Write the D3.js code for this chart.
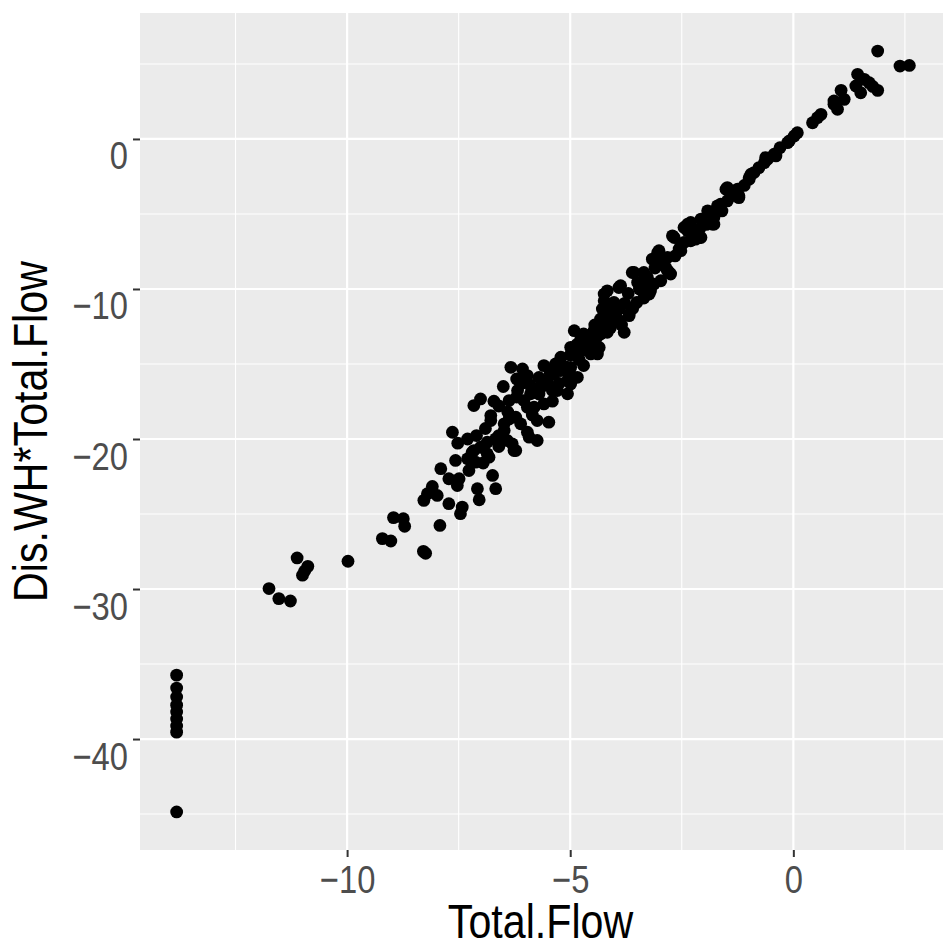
<!DOCTYPE html>
<html>
<head>
<meta charset="utf-8">
<script src="https://cdn.jsdelivr.net/npm/d3@7"></script>
<style>
  html, body { margin: 0; padding: 0; background: #ffffff; }
  svg { display: block; }
  text { font-family: "Liberation Sans", Arial, sans-serif; }
</style>
</head>
<body>
<svg id="chart" width="943" height="947"></svg>
<script>
// Total.Flow (x) against Dis.WH*Total.Flow (y)
const flowX = [
  -13.82,-13.82,-13.82,-13.82,-13.82,-13.82,-13.82,-13.82,-13.82,
  -11.75,-11.53,-11.27,-11.12,-10.88,-10.95,-11.0,-9.98,-9.21,-9.02,-8.96,-8.74,-8.71,-8.29,-8.24,-8.28,-8.2,
  -7.92,-8.09,-7.98,-7.9,-7.72,-7.49,-7.53,-7.72,-7.42,-7.46,-7.64,-7.52,-7.57,-7.3,-7.12,-7.27,-7.08,-7.04,
  -6.74,-6.67,-7.1,-7.01,-6.86,-7.16,-7.01,-6.71,-6.78,-6.78,-6.67,-6.6,-6.48,-6.41,-6.3,-6.22,-6.86,-6.48,
  -6.37,-6.22,-6.11,-6.37,-6.18,-6.04,-5.96,-5.92,-5.74,-5.96,-5.74,-5.48,-5.81,-5.59,-5.4,-6.33,-6.07,-5.96,
  -5.59,-5.66,-5.81,-5.51,-5.36,-5.21,-5.06,-4.99,-5.29,-5.33,
  -5.21,-4.91,-7.16,-6.82,-6.26,
  -4.91,-4.76,-4.47,-4.61,-4.99,-4.76,-4.54,-4.99,-4.84,-6.11,-5.06,-4.47,-4.32,-4.17,-4.32,-4.17,-3.94,-3.79,
  -3.68,-3.91,-4.05,-4.24,-4.28,-4.17,-4.24,-3.78,-3.51,-3.87,-3.61,-3.49,-3.27,-3.12,-3.23,-2.97,-2.82,-2.97,
  -3.16,-2.82,-3.35,-5.51,-5.89,-5.4,
  -4.61,-4.39,-6.0,-4.02,-4.13,-3.91,-3.68,-3.91,-3.35,-3.2,-2.78,-3.01,-2.67,-2.52,-2.3,-2.11,-2.37,-3.57,
  -2.75,-2.86,-2.56,-2.37,-2.22,-2.07,-2.19,-1.92,-1.78,-1.81,-1.7,-1.48,-1.51,-1.25,-1.22,-1.33,-0.99,-0.88,
  -0.77,-0.65,-0.58,-0.43,-0.3,-2.52,-3.04,
  -2.71,-2.45,-2.3,-2.19,-2.07,-1.81,-1.78,-1.63,-1.48,-1.33,-1.22,-0.99,-0.62,-0.39,-0.13,0.02,0.09,0.43,
  0.54,0.62,0.91,
  -0.95,-0.09,0.91,1.07,0.99,1.14,1.44,1.59,1.7,1.4,1.51,1.89,1.89,2.39,2.6,1.78,
  -4.7,-4.55,-4.4,-4.25,-4.1,-4.0,-4.45,-4.85,-4.65,-4.35,-5.0,-4.8,-5.1,-5.45,-5.7,-5.55,-5.25,-5.0,
  -4.7,-5.7,-5.9,-6.2,-6.5,-6.2,-6.6,-6.4,-6.9,-7.3,-7.2,-6.95,-6.6,-5.85,-3.7,-3.45,-3.3,-3.1,
  -2.9,-2.65,-2.45,-2.1,-1.95,-1.6,-1.4,-1.1,-3.85,-3.6,-3.35
];
const disWH = [
  -35.74,-36.6,-37.2,-37.74,-38.2,-38.67,-39.13,-39.54,-44.86,
  -29.97,-30.64,-30.8,-27.93,-28.49,-28.8,-29.08,-28.15,-26.64,-26.8,-25.24,-25.31,-25.82,-27.49,-27.62,-24.09,-23.65,
  -25.76,-23.16,-23.76,-21.98,-22.65,-22.65,-23.1,-24.31,-24.54,-24.98,-19.55,-20.28,-21.43,-21.32,-21.54,-22.1,-23.31,-24.05,
  -22.43,-23.31,-19.77,-20.55,-20.99,-17.77,-17.33,-17.48,-18.44,-18.77,-19.99,-19.77,-19.43,-20.1,-20.32,-20.77,-20.21,-18.99,
  -18.66,-18.55,-18.99,-17.44,-16.77,-17.44,-17.88,-19.88,-20.1,-19.55,-18.77,-18.88,-17.88,-17.66,-17.48,-15.22,-15.33,-15.77,
  -15.11,-16.55,-16.88,-16.11,-15.66,-15.44,-16.11,-15.22,-16.77,-15.0,
  -14.55,-14.33,-20.77,-21.21,-20.77,
  -12.78,-13.33,-12.78,-13.11,-13.89,-14.11,-14.33,-16.33,-15.89,-16.33,-16.99,-13.66,-13.0,-12.89,-12.0,-12.33,-12.0,-12.89,
  -11.78,-11.33,-11.0,-10.78,-11.33,-10.12,-10.34,-10.96,-10.9,-9.78,-8.9,-9.56,-9.23,-9.67,-10.34,-9.45,-8.79,-8.34,
  -8.01,-7.9,-8.9,-16.33,-16.99,-16.77,
  -13.44,-14.33,-16.1,-10.9,-11.67,-12.11,-11.67,-9.9,-9.45,-10.12,-8.9,-7.45,-6.57,-7.45,-6.79,-6.57,-6.12,-8.9,
  -9.0,-8.57,-7.34,-5.68,-6.12,-5.34,-6.68,-4.79,-5.24,-5.68,-4.46,-4.13,-3.35,-3.35,-3.91,-3.68,-2.68,-2.24,
  -1.91,-1.58,-1.35,-1.02,-0.58,-7.12,-7.57,
  -6.46,-5.9,-5.57,-6.24,-6.57,-5.12,-5.68,-4.35,-3.24,-3.46,-3.79,-2.58,-1.24,-1.13,-0.25,0.2,0.42,1.08,
  1.42,1.64,2.31,
  -2.35,-0.13,2.53,3.24,1.98,2.64,4.31,3.97,3.75,3.53,3.08,3.24,5.86,4.86,4.9,3.5,
  -13.0,-13.6,-13.2,-12.6,-12.6,-11.7,-12.4,-13.7,-14.0,-13.9,-14.4,-14.7,-15.2,-15.6,-15.9,-16.4,-16.3,-15.7,
  -15.1,-17.0,-16.4,-16.0,-16.5,-17.2,-17.8,-18.2,-19.3,-20.0,-20.9,-21.6,-20.5,-18.4,-10.3,-10.0,-9.8,-8.6,
  -8.1,-7.8,-6.9,-6.0,-5.7,-4.8,-3.8,-3.1,-12.4,-11.3,-10.6
];

// Axis breaks
const xBreaks = [-10, -5, 0];
const xMinor = [-12.5, -7.5, -2.5, 2.5];
const yBreaks = [0, -10, -20, -30, -40];
const yMinor = [5, -5, -15, -25, -35, -45];
const xTitle = "Total.Flow";
const yTitle = "Dis.WH*Total.Flow";

const points = flowX.map((x, i) => ({ x, y: disWH[i] }));

// ggplot-style 5% expansion of the data range
function expand(ext) {
  const pad = (ext[1] - ext[0]) * 0.05;
  return [ext[0] - pad, ext[1] + pad];
}

// condensed lettering
const squeeze = "scale(0.84,1)";

const panel = { left: 140, right: 946, top: 13, bottom: 850 };

const x = d3.scaleLinear().domain(expand(d3.extent(flowX))).range([panel.left, panel.right]);
const y = d3.scaleLinear().domain(expand(d3.extent(disWH))).range([panel.bottom, panel.top]);

const svg = d3.select("#chart");

// Panel background
svg.append("rect")
  .attr("x", panel.left).attr("y", panel.top)
  .attr("width", panel.right - panel.left).attr("height", panel.bottom - panel.top)
  .attr("fill", "#EBEBEB");

const grid = svg.append("g");
// Minor gridlines
grid.selectAll("line.xminor").data(xMinor).join("line")
  .attr("x1", d => x(d)).attr("x2", d => x(d))
  .attr("y1", panel.top).attr("y2", panel.bottom)
  .attr("stroke", "#ffffff").attr("stroke-width", 1.1);
grid.selectAll("line.yminor").data(yMinor).join("line")
  .attr("y1", d => y(d)).attr("y2", d => y(d))
  .attr("x1", panel.left).attr("x2", panel.right)
  .attr("stroke", "#ffffff").attr("stroke-width", 1.1);
// Major gridlines
grid.selectAll("line.xmajor").data(xBreaks).join("line")
  .attr("x1", d => x(d)).attr("x2", d => x(d))
  .attr("y1", panel.top).attr("y2", panel.bottom)
  .attr("stroke", "#ffffff").attr("stroke-width", 2.2);
grid.selectAll("line.ymajor").data(yBreaks).join("line")
  .attr("y1", d => y(d)).attr("y2", d => y(d))
  .attr("x1", panel.left).attr("x2", panel.right)
  .attr("stroke", "#ffffff").attr("stroke-width", 2.2);

// Points
svg.append("g").selectAll("circle").data(points).join("circle")
  .attr("cx", d => x(d.x)).attr("cy", d => y(d.y))
  .attr("r", 6.4).attr("fill", "#000000");

const minus = d => d3.format("")(d).replace("-", "\u2212");

// X axis
const xAxis = d3.axisBottom(x).tickValues(xBreaks).tickSize(7).tickPadding(4).tickFormat(minus);
const gx = svg.append("g").attr("transform", `translate(0,${panel.bottom})`).call(xAxis);
gx.select(".domain").remove();
gx.selectAll(".tick line").attr("stroke", "#333333").attr("stroke-width", 2);
gx.selectAll(".tick text").attr("fill", "#4D4D4D").attr("font-size", 39)
  .attr("y", null).attr("dy", null).attr("transform", `translate(0,43) ${squeeze}`);

// Y axis
const yAxis = d3.axisLeft(y).tickValues(yBreaks).tickSize(7).tickPadding(5).tickFormat(minus);
const gy = svg.append("g").attr("transform", `translate(${panel.left},0)`).call(yAxis);
gy.select(".domain").remove();
gy.selectAll(".tick line").attr("stroke", "#333333").attr("stroke-width", 2);
gy.selectAll(".tick text").attr("fill", "#4D4D4D").attr("font-size", 39)
  .attr("x", 0).attr("dy", null).attr("transform", `translate(-12,30) ${squeeze}`);

// Axis titles
svg.append("text")
  .attr("transform", `translate(${(panel.left + 941) / 2},938) ${squeeze}`)
  .attr("text-anchor", "middle").attr("font-size", 49).attr("fill", "#000000")
  .text(xTitle);
svg.append("text")
  .attr("transform", `translate(47,${(panel.top + panel.bottom) / 2}) rotate(-90) ${squeeze}`)
  .attr("text-anchor", "middle").attr("font-size", 49).attr("fill", "#000000")
  .text(yTitle);
</script>
</body>
</html>
